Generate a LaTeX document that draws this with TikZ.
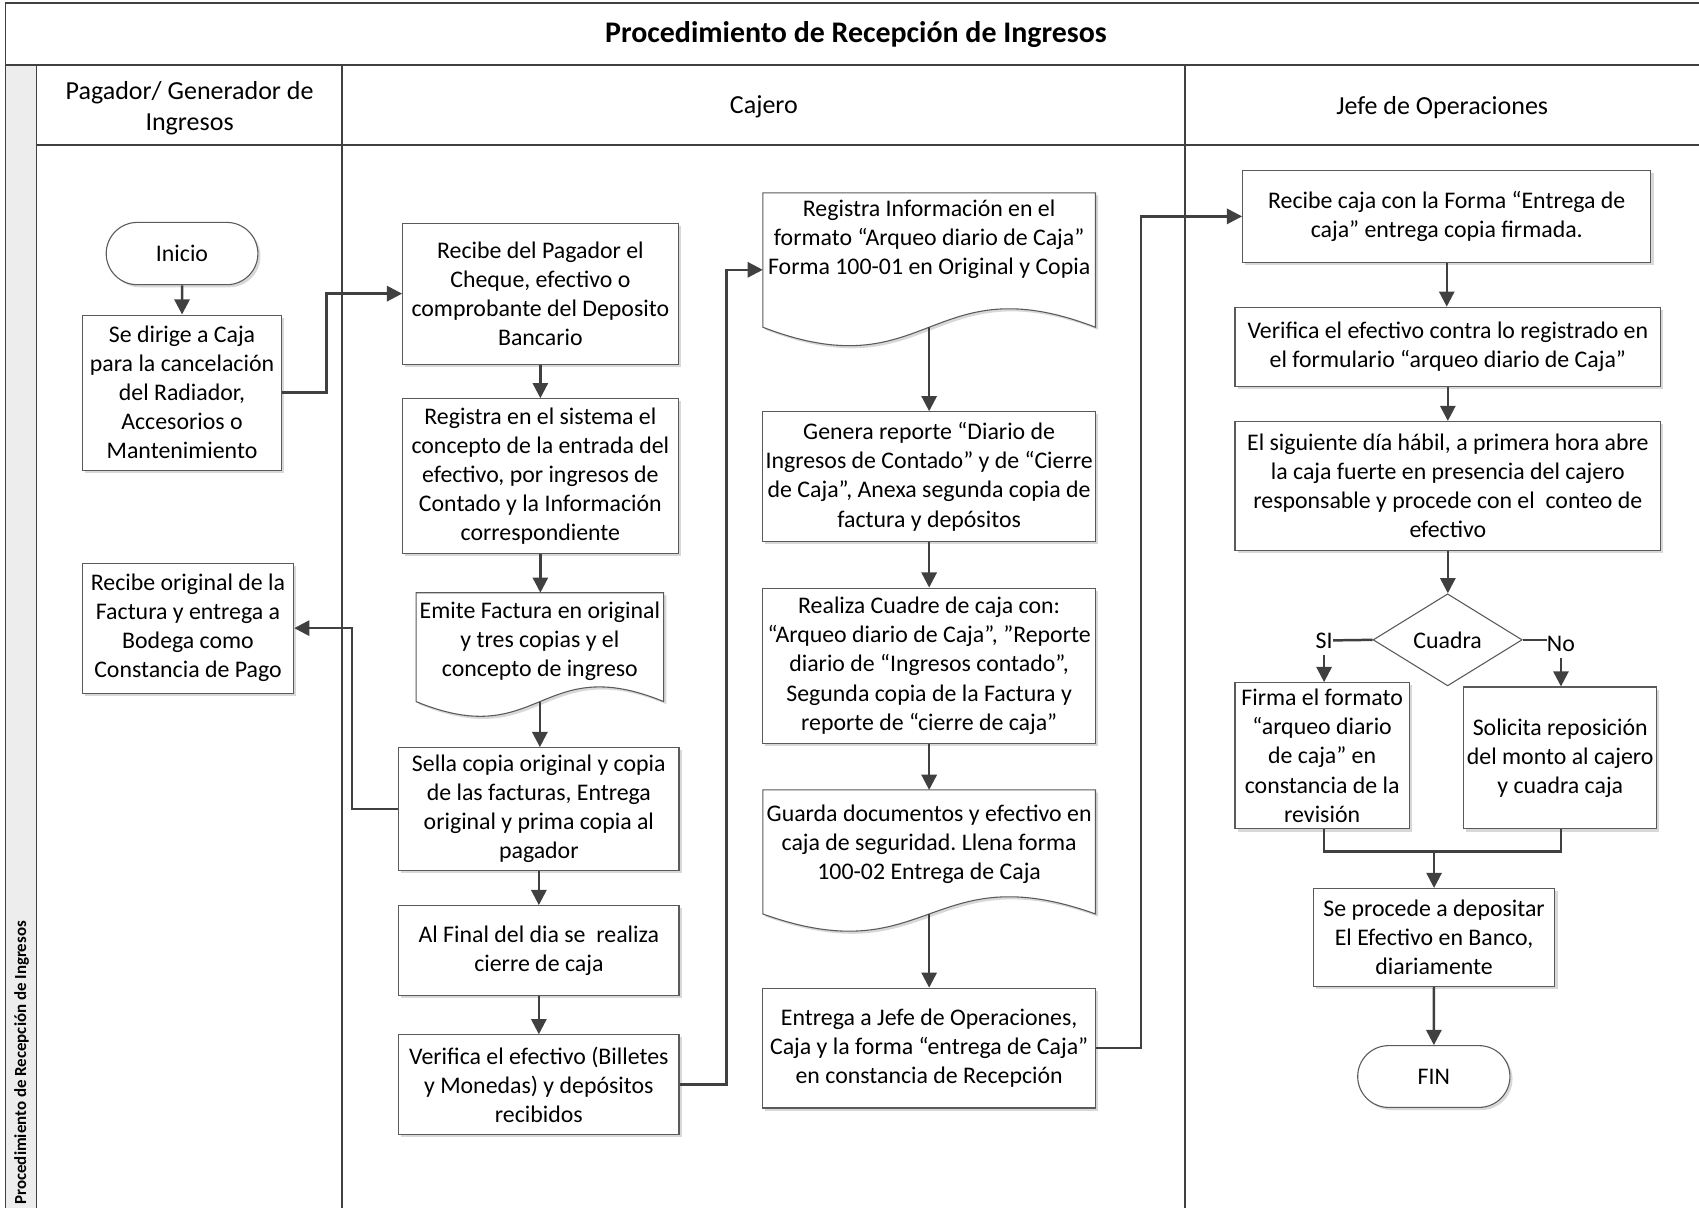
\documentclass[tikz,border=0pt]{standalone}
\usepackage{fontspec}
\setmainfont{Carlito}
\usetikzlibrary{arrows.meta,shapes.geometric,shapes.misc,shadows,calc}

\definecolor{frame}{HTML}{404040}
\definecolor{edge}{HTML}{5A5A5A}
\definecolor{wire}{HTML}{404040}
\definecolor{strip}{HTML}{EDEDED}

\begin{document}
\frenchspacing
\begin{tikzpicture}[x=0.5pt,y=-0.5pt,
  body/.style={font=\fontsize{11}{13.4}\selectfont},
  softshadow/.style={drop shadow={shadow xshift=1.2pt,shadow yshift=-1.2pt,fill=black!30,opacity=0.5}},
  box/.style={draw=edge, line width=0.5pt, fill=white, softshadow, align=center, inner sep=0pt, body},
  sz/.style 2 args={minimum width={#1*0.5pt}, minimum height={#2*0.5pt}},
  term/.style={box, rounded rectangle},
  outline/.style={draw=edge, line width=0.5pt, fill=white, softshadow},
  doctext/.style={align=center, inner sep=0pt, body},
  conn/.style={draw=wire, line width=1.15pt},
  arr/.style={conn, -{Triangle[length=7pt,width=7pt]}},
  lane/.style={draw=frame, line width=0.8pt},
  lanehead/.style={align=center, inner sep=0pt, font=\fontsize{12}{14.2}\selectfont},
  ]
\useasboundingbox (0,0) rectangle (1568,1114);

% ---- pool and swimlanes ----
\fill[strip] (5,60) rectangle (33.6,1120);
\draw[lane] (5,1120) -- (5,3) -- (1572,3);
\draw[lane] (5,60) -- (1572,60);
\draw[lane] (33.6,60) -- (33.6,1120);
\draw[lane] (33.6,134) -- (1572,134);
\draw[lane] (315.3,60) -- (315.3,1120);
\draw[lane] (1093.6,60) -- (1093.6,1120);

\node[font=\bfseries\fontsize{13.8}{16}\selectfont] (title) at (790,32) {Procedimiento de Recepción de Ingresos};
\node[rotate=90, anchor=west, inner sep=0pt, font=\bfseries\fontsize{7.8}{9}\selectfont] (pool) at (20,1112) {Procedimiento de Recepción de Ingresos};

\node[lanehead] (h1) at (175,100) {Pagador/ Generador de\\Ingresos};
\node[lanehead] (h2) at (705,99) {Cajero};
\node[lanehead] (h3) at (1331,99) {Jefe de Operaciones};

% ---- Pagador / Generador de Ingresos ----
\node[term, sz={140}{57.5}] (inicio) at (168,234) {Inicio};
\node[box, sz={184}{143.3}] (dirige) at (168,362.4) {Se dirige a Caja\\para la cancelación\\del Radiador,\\Accesorios o\\Mantenimiento};
\node[box, sz={195}{119.8}] (recorig) at (173.5,579.7) {Recibe original de la\\Factura y entrega a\\Bodega como\\Constancia de Pago};

% ---- Cajero, first column ----
\node[box, sz={254.2}{130}] (recpag) at (498.7,271) {Recibe del Pagador el\\Cheque, efectivo o\\comprobante del Deposito\\Bancario};
\node[box, sz={254.2}{143}] (regsis) at (498.7,439.5) {Registra en el sistema el\\concepto de la entrada del\\efectivo, por ingresos de\\Contado y la Información\\correspondiente};
\path[outline] (384,547) -- (612.5,547) -- (612.5,647.5) .. controls (498.25,600.5) and (498.25,694.5) .. (384,647.5) -- cycle;
\node[doctext] (emite) at (498.25,591.5) {Emite Factura en original\\y tres copias y el\\concepto de ingreso};
\coordinate (emite-out) at (498.25,647.5);
\node[box, sz={258.6}{113}] (sella) at (497.3,746.5) {Sella copia original y copia\\de las facturas, Entrega\\original y prima copia al\\pagador};
\node[box, sz={258.6}{83.2}] (alfinal) at (497.3,877.4) {Al Final del dia se\ \ realiza\\cierre de caja};
\node[box, sz={258.6}{91.6}] (verif) at (497.3,1000.8) {Verifica el efectivo (Billetes\\y Monedas) y depósitos\\recibidos};

% ---- Cajero, second column ----
\path[outline] (704,178) -- (1011,178) -- (1011,302) .. controls (857.5,243) and (857.5,361) .. (704,302) -- cycle;
\node[doctext] (reginfo) at (857.5,221) {Registra Información en el\\formato “Arqueo diario de Caja”\\Forma 100-01 en Original y Copia};
\coordinate (reginfo-in) at (704,249);
\coordinate (reginfo-out) at (857.5,302);
\node[box, sz={307}{120}] (genera) at (857.5,440) {Genera reporte “Diario de\\Ingresos de Contado” y de “Cierre\\de Caja”, Anexa segunda copia de\\factura y depósitos};
\node[box, sz={307}{143.3}] (realiza) at (857.5,614.4) {Realiza Cuadre de caja con:\\“Arqueo diario de Caja”, ”Reporte\\diario de “Ingresos contado”,\\Segunda copia de la Factura y\\reporte de “cierre de caja”};
\path[outline] (704,729) -- (1011,729) -- (1011,843.5) .. controls (857.5,788.5) and (857.5,898.5) .. (704,843.5) -- cycle;
\node[doctext] (guarda) at (857.5,779.5) {Guarda documentos y efectivo en\\caja de seguridad. Llena forma\\100-02 Entrega de Caja};
\coordinate (guarda-in) at (857.5,729);
\coordinate (guarda-out) at (857.5,843.5);
\node[box, sz={307}{110.5}] (entrega) at (857.5,967.3) {Entrega a Jefe de Operaciones,\\Caja y la forma “entrega de Caja”\\en constancia de Recepción};

% ---- Jefe de Operaciones ----
\node[box, sz={376.8}{85.4}] (reccaja) at (1335.2,199.7) {Recibe caja con la Forma “Entrega de\\caja” entrega copia firmada.};
\node[box, sz={392.9}{73.5}] (vercontra) at (1336.2,320.3) {Verifica el efectivo contra lo registrado en\\el formulario “arqueo diario de Caja”};
\node[box, sz={392.9}{119}] (siguiente) at (1336.2,448.5) {El siguiente día hábil, a primera hora abre\\la caja fuerte en presencia del cajero\\responsable y procede con el\ \ conteo de\\efectivo};
\node[diamond, draw=edge, line width=0.5pt, fill=white, inner sep=0pt, minimum width=68.8pt, minimum height=42.5pt, body] (cuadra) at (1336,590.5) {Cuadra};
\node[inner sep=0pt, body] (si) at (1222,591) {SI};
\node[inner sep=0pt, body] (no) at (1440.6,594) {No};
\node[box, sz={160.9}{135}] (firma) at (1220.2,697.5) {Firma el formato\\“arqueo diario\\de caja” en\\constancia de la\\revisión};
\node[box, sz={178.2}{131}] (solicita) at (1439.9,699.5) {Solicita reposición\\del monto al cajero\\y cuadra caja};
\coordinate (merge) at (1323.5,786);
\node[box, sz={223}{90}] (procede) at (1323.5,865) {Se procede a depositar\\El Efectivo en Banco,\\diariamente};
\node[term, sz={140.5}{57}] (fin) at (1323.25,993.5) {FIN};

% ---- connectors ----
\draw[arr] (inicio) -- (dirige);
\draw[arr] (dirige.east) -- ++(41,0) |- (recpag.west);
\draw[arr] (recpag) -- (regsis);
\draw[arr] (regsis.south) -- (regsis.south |- 0,547);
\draw[arr] (emite-out) -- (emite-out |- sella.north);
\draw[arr] (sella.west) -- ++(-42.5,0) |- (recorig.east);
\draw[arr] (sella) -- (alfinal);
\draw[arr] (alfinal) -- (verif);
\draw[arr] (verif.east) -- ++(43.4,0) |- (reginfo-in);
\draw[arr] (reginfo-out) -- (genera.north);
\draw[arr] (genera) -- (realiza);
\draw[arr] (realiza.south) -- (guarda-in);
\draw[arr] (guarda-out) -- (entrega.north);
\draw[arr] (entrega.east) -- ++(41.7,0) |- (reccaja.west);
\draw[arr] (reccaja.south) -- (reccaja.south |- vercontra.north);
\draw[arr] (vercontra) -- (siguiente);
\draw[arr] (siguiente.south) -- (siguiente.south |- cuadra.north);
\draw[conn] (cuadra.west) -- (si.east);
\draw[conn] (cuadra.east) -- (no.west |- cuadra.east);
\draw[arr] ([yshift=-3pt]si.south) -- (si.south |- firma.north);
\draw[arr] ([yshift=-3pt]no.south) -- (no.south |- solicita.north);
\draw[conn] (firma.south -| si) -- (si |- merge) -- (no |- merge) -- (solicita.south -| no);
\draw[arr] (merge) -- (procede.north);
\draw[arr] (procede) -- (fin);
\end{tikzpicture}
\end{document}
